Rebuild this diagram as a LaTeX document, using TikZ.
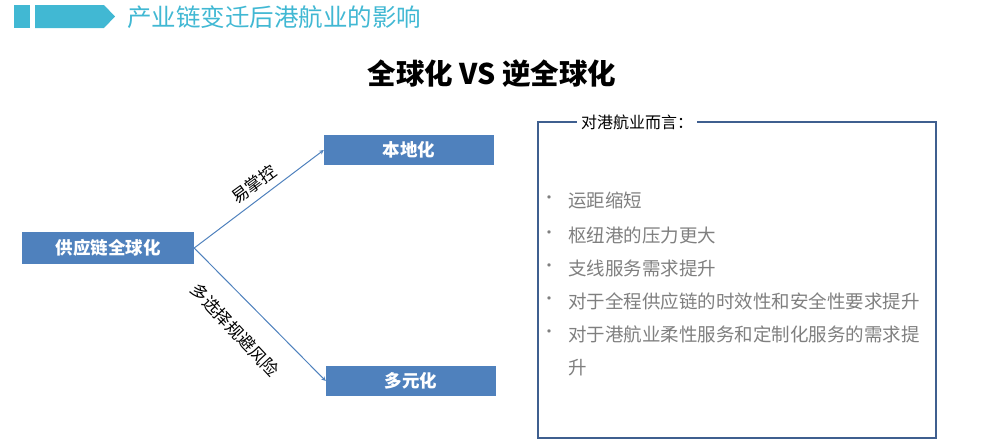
\documentclass[tikz,border=0pt]{standalone}
\usepackage{fontspec}
\setmainfont{Noto Sans CJK SC}
\definecolor{teal}{HTML}{41B8D3}
\definecolor{boxblue}{HTML}{4F81BD}
\definecolor{frame}{HTML}{3F5F8F}
\definecolor{txtgrey}{HTML}{7F7F7F}
\begin{document}
\begin{tikzpicture}[x=1pt,y=-1pt,
  bluebox/.style={fill=boxblue,text=white,font=\fontsize{17.5}{20}\selectfont\bfseries,inner sep=0pt},
  conn/.style={draw=boxblue,line width=1pt,-stealth},
  lbl/.style={font=\fontsize{17}{19}\selectfont,inner sep=1pt},
  item/.style={anchor=west,text=txtgrey,font=\fontsize{18.5}{21}\selectfont,inner sep=0pt}]
\useasboundingbox (0,0) rectangle (996,445);
\fill[teal] (14,5) rectangle (30,28);
\fill[teal] (35,5) -- (104,5) -- (115,16.5) -- (104,28) -- (35,28) -- cycle;
\node[anchor=west,text=teal,font=\fontsize{24.5}{28}\selectfont,inner sep=0pt] (hdr) at (127,17) {产业链变迁后港航业的影响};
\node[font=\fontsize{28.5}{32}\selectfont\bfseries,inner sep=0pt] (ttl) at (492,74) {全球化 VS 逆全球化};
\node[bluebox,minimum width=172pt,minimum height=32pt] (g) at (108,248) {供应链全球化};
\node[bluebox,minimum width=170pt,minimum height=30pt] (l) at (409,150) {本地化};
\node[bluebox,minimum width=170pt,minimum height=30pt] (d) at (411,381) {多元化};
\draw[conn] (g.east) -- (l.west);
\draw[conn] (g.east) -- (d.west);
\node[lbl,rotate=36] (lb1) at (254,184) {易掌控};
\node[lbl,rotate=-47] (lb2) at (235,330) {多选择规避风险};
\draw[frame,line width=1.5pt] (538,122) rectangle (936,438);
\node[fill=white,font=\fontsize{16}{18}\selectfont,inner sep=4pt] (rt) at (637,122) {对港航业而言：};
\foreach \y/\t in {200/运距缩短,235/枢纽港的压力更大,268/支线服务需求提升,301/对于全程供应链的时效性和安全性要求提升,334/对于港航业柔性服务和定制化服务的需求提}{
  \node[text=txtgrey,font=\fontsize{16}{18}\selectfont] at (549,\y) {•};
  \node[item] at (568,\y) {\t};
}
\node[item] (last) at (568,368) {升};
\end{tikzpicture}
\end{document}
